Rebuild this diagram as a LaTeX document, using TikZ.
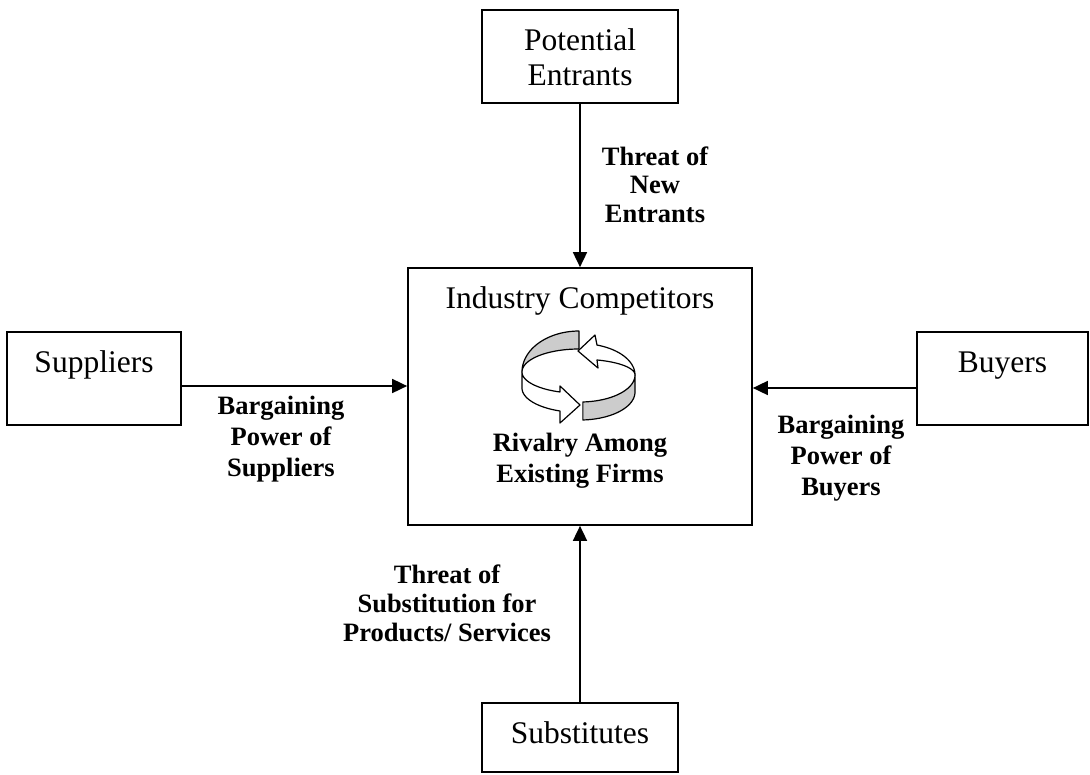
\documentclass[tikz,border=0pt]{standalone}
\usepackage{fontspec}
\setmainfont{Liberation Serif}
\usetikzlibrary{arrows.meta}
\newcommand{\boxfont}{\fontsize{31.5}{35}\selectfont}
\newcommand{\labfont}{\fontsize{26.5}{31}\selectfont\bfseries}
\newcommand{\mlines}[1]{\begin{tabular}[t]{@{}c@{}}#1\end{tabular}}
\begin{document}
\begin{tikzpicture}[x=1pt,y=-1pt,
  fbox/.style={draw, line width=1.7pt, inner sep=0pt, anchor=base, text height=40pt, font=\boxfont},
  flab/.style={anchor=base, inner sep=0pt, font=\labfont},
  farr/.style={line width=1.7pt, -{Triangle[length=15pt,width=14pt]}},
  ring/.style={draw, line width=1.2pt, line join=round},
  ringgray/.style={ring, fill=gray!40},
  ringwhite/.style={ring, fill=white}]
\fill[white] (0,0) rectangle (1090,774);
\useasboundingbox (0,0) rectangle (1090,774);

% boxes
\node[fbox, minimum width=196pt, text depth=53pt] (pot) at (580,50) {\mlines{Potential\\Entrants}};
\node[fbox, minimum width=344pt, text depth=217pt] (ind) at (580,308) {Industry Competitors};
\node[fbox, minimum width=174pt, text depth=53pt] (sup) at (94,372) {Suppliers};
\node[fbox, minimum width=171pt, text depth=53pt] (buy) at (1002.5,372) {Buyers};
\node[fbox, minimum width=196pt, text depth=29pt] (sub) at (580,743) {Substitutes};

% labels
\node[flab, font={\fontsize{26.5}{28.5}\selectfont\bfseries}] (lnew) at (655,165) {\mlines{Threat of\\New\\Entrants}};
\node[flab] (lsup) at (281,414) {\mlines{Bargaining\\Power of\\Suppliers}};
\node[flab] (lbuy) at (841,433) {\mlines{Bargaining\\Power of\\Buyers}};
\node[flab, font={\fontsize{26.5}{29}\selectfont\bfseries}] (lsub) at (447,583) {\mlines{Threat of\\Substitution for\\Products/ Services}};
\node[flab] (lriv) at (580,451) {\mlines{Rivalry Among\\Existing Firms}};

% connectors
\draw[farr] (pot.south) -- (ind.north);
\draw[farr] (sub.north) -- (ind.south);
\draw[farr] ([yshift=-7.5pt]sup.east) -- ([yshift=-7.5pt]sup.east -| ind.west);
\draw[farr] ([yshift=-9.5pt]buy.west) -- ([yshift=-9.5pt]buy.west -| ind.east);

% rivalry icon
\path[ringgray] plot[domain=90:180, samples=30] ({579+57*cos(\x)},{372-41*sin(\x)})
  -- plot[domain=180:90, samples=30] ({579+57*cos(\x)},{372-23*sin(\x)}) -- cycle;
\path[ringwhite] plot[domain=0:72, samples=30] ({580+55*cos(\x)},{375-31.5*sin(\x)})
  -- (595,335) -- (578,351) -- (598,368) -- (597,360)
  -- plot[domain=72:0, samples=30] ({580+55*cos(\x)},{375-15.8*sin(\x)}) -- cycle;
\path[ringgray] plot[domain=273:360, samples=30] ({580+55*cos(\x)},{375-27*sin(\x)})
  -- plot[domain=360:273, samples=30] ({580+55*cos(\x)},{392-28*sin(\x)}) -- cycle;
\path[ringwhite] plot[domain=180:249.8, samples=30] ({580+58*cos(\x)},{372-21.3*sin(\x)})
  -- (560,386) -- (580,405) -- (560,423) -- (560,411)
  -- plot[domain=249.8:180, samples=30] ({580+58*cos(\x)},{388-24.5*sin(\x)}) -- cycle;
\end{tikzpicture}
\end{document}
